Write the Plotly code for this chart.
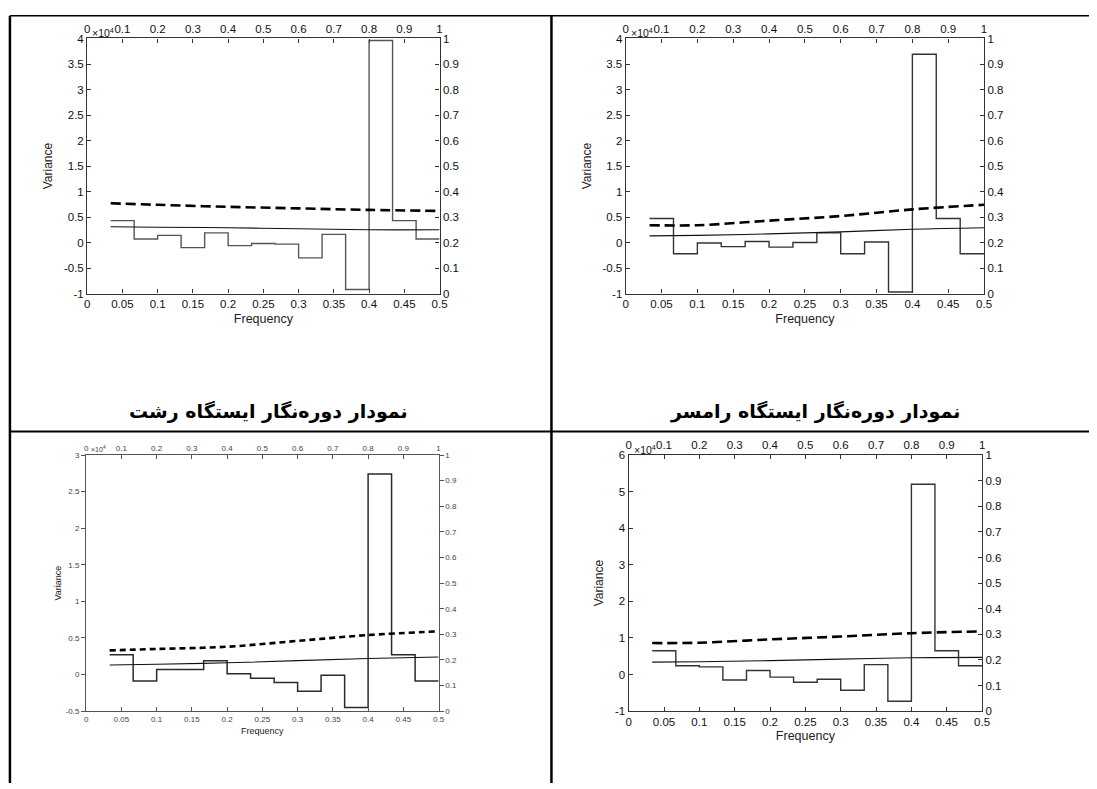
import plotly.graph_objects as go

W, H = 1097, 789

# ---------------- data (variance in units of 10^4) ----------------
freq_edges = [0.0333, 0.0667, 0.1, 0.1333, 0.1667, 0.2, 0.2333, 0.2667,
              0.3, 0.3333, 0.3667, 0.4, 0.4333, 0.4667, 0.5]
curve_freq = [0.0333, 0.1, 0.2, 0.3, 0.4, 0.5]

rasht_var = [0.43, 0.07, 0.14, -0.10, 0.19, -0.06, -0.02, -0.03, -0.30, 0.16, -0.92, 3.96, 0.43, 0.07]
rasht_red = [0.31, 0.30, 0.29, 0.27, 0.25, 0.25]
rasht_conf = [0.77, 0.74, 0.70, 0.67, 0.64, 0.62]

ramsar_var = [0.47, -0.22, -0.01, -0.08, 0.02, -0.09, 0.00, 0.19, -0.22, 0.01, -0.97, 3.69, 0.47, -0.22]
ramsar_red = [0.13, 0.14, 0.17, 0.21, 0.26, 0.29]
ramsar_conf = [0.34, 0.34, 0.43, 0.52, 0.65, 0.74]

st3_var = [0.27, -0.09, 0.07, 0.07, 0.19, 0.01, -0.05, -0.11, -0.23, -0.01, -0.45, 2.74, 0.27, -0.09]
st3_red = [0.13, 0.14, 0.16, 0.19, 0.22, 0.24]
st3_conf = [0.33, 0.35, 0.38, 0.46, 0.54, 0.59]

st4_var = [0.65, 0.24, 0.21, -0.15, 0.11, -0.07, -0.21, -0.13, -0.43, 0.27, -0.73, 5.20, 0.65, 0.24]
st4_red = [0.34, 0.35, 0.38, 0.42, 0.46, 0.47]
st4_conf = [0.86, 0.87, 0.96, 1.04, 1.13, 1.18]

bottom_ticks = [0, 0.05, 0.1, 0.15, 0.2, 0.25, 0.3, 0.35, 0.4, 0.45, 0.5]
top_ticks = [0, 0.1, 0.2, 0.3, 0.4, 0.5, 0.6, 0.7, 0.8, 0.9, 1]
right_ticks = [0, 0.1, 0.2, 0.3, 0.4, 0.5, 0.6, 0.7, 0.8, 0.9, 1]
y_ticks_a = [-1, -0.5, 0, 0.5, 1, 1.5, 2, 2.5, 3, 3.5, 4]
y_ticks_c = [-0.5, 0, 0.5, 1, 1.5, 2, 2.5, 3]
y_ticks_d = [-1, 0, 1, 2, 3, 4, 5, 6]

titles = ["نمودار دوره\u200cنگار ایستگاه رشت", "نمودار دوره\u200cنگار ایستگاه رامسر"]
x_label = "Frequency"
y_label = "Variance"
exp_label = "×10<sup>4</sup>"

# ---------------- layout helpers ----------------
def fx(v):
    return v / W

def fy(v):
    return 1 - v / H

def fmt(v):
    return f"{v:g}"

panels = [
    dict(var=rasht_var, red=rasht_red, conf=rasht_conf, box=(85, 441, 33, 292),
         yrange=[-1, 4], yticks=y_ticks_a, small=False, stepcol="#555555", dash="10px,5px"),
    dict(var=ramsar_var, red=ramsar_red, conf=ramsar_conf, box=(629, 991, 33, 292),
         yrange=[-1, 4], yticks=y_ticks_a, small=False, stepcol="#333333", dash="10px,5px"),
    dict(var=st3_var, red=st3_red, conf=st3_conf, box=(84, 440, 456, 716),
         yrange=[-0.5, 3], yticks=y_ticks_c, small=True, stepcol="#2a2a2a", dash="6px,4px"),
    dict(var=st4_var, red=st4_red, conf=st4_conf, box=(632, 989, 456, 716),
         yrange=[-1, 6], yticks=y_ticks_d, small=False, stepcol="#333333", dash="10px,5px"),
]

fig = go.Figure()
layout = {}
annotations = []

for p, pn in enumerate(panels):
    xb, xt = 2 * p + 1, 2 * p + 2
    yl, yr = 2 * p + 1, 2 * p + 2
    def nm(a, n):
        return a + ("" if n == 1 else str(n))
    x0, x1, y0, y1 = pn["box"]
    small = pn["small"]
    tfont = dict(family="Liberation Sans Narrow, Liberation Sans, Arial" if small else "Liberation Sans, Arial",
                 size=8 if small else 11.5, color="#444" if small else "#111")
    axcol = "#555" if small else "#333"
    common = dict(showgrid=False, zeroline=False, showline=True, linecolor=axcol,
                  linewidth=1.2, tickcolor=axcol, ticklen=4, tickfont=tfont, mirror=False)

    layout[nm("xaxis", xb)] = dict(common, domain=[fx(x0), fx(x1)], anchor=nm("y", yl),
                                  range=[0, 0.5], tickvals=bottom_ticks,
                                  ticktext=[fmt(v) for v in bottom_ticks], ticks="inside",
                                  title=dict(text=x_label, standoff=4,
                                             font=dict(family=tfont["family"], size=9 if small else 12.5, color="#222")))
    layout[nm("xaxis", xt)] = dict(common, overlaying=nm("x", xb), anchor=nm("y", yl), side="top",
                                  range=[0, 1], tickvals=top_ticks,
                                  ticktext=[fmt(v) for v in top_ticks], ticks="inside")
    layout[nm("yaxis", yl)] = dict(common, domain=[fy(y1), fy(y0)], anchor=nm("x", xb),
                                  range=pn["yrange"], tickvals=pn["yticks"],
                                  ticktext=[fmt(v) for v in pn["yticks"]],
                                  ticks="outside" if small else "inside",
                                  title=dict(text=y_label, standoff=2 if small else 8,
                                             font=dict(family=tfont["family"], size=9 if small else 12, color="#222")))
    layout[nm("yaxis", yr)] = dict(common, overlaying=nm("y", yl), anchor=nm("x", xb), side="right",
                                  range=[0, 1], tickvals=right_ticks,
                                  ticktext=[fmt(v) for v in right_ticks],
                                  ticks="outside" if small else "inside")

    # periodogram step line
    fig.add_trace(go.Scatter(x=freq_edges, y=pn["var"] + [pn["var"][-1]], mode="lines",
                             line=dict(shape="hv", color=pn["stepcol"], width=1.5 if small else 1.4),
                             xaxis=nm("x", xb), yaxis=nm("y", yl), showlegend=False, hoverinfo="skip"))
    # red-noise spectrum
    fig.add_trace(go.Scatter(x=curve_freq, y=pn["red"], mode="lines",
                             line=dict(shape="spline", color="#111", width=1.1),
                             xaxis=nm("x", xb), yaxis=nm("y", yl), showlegend=False, hoverinfo="skip"))
    # confidence limit
    fig.add_trace(go.Scatter(x=curve_freq, y=pn["conf"], mode="lines",
                             line=dict(shape="spline", color="#000", width=2.6, dash=pn["dash"]),
                             xaxis=nm("x", xb), yaxis=nm("y", yl), showlegend=False, hoverinfo="skip"))
    # anchor for the top/right axes
    fig.add_trace(go.Scatter(x=[0], y=[0], mode="markers", marker=dict(opacity=0),
                             xaxis=nm("x", xt), yaxis=nm("y", yr), showlegend=False, hoverinfo="skip"))

    annotations.append(dict(text=exp_label, xref="paper", yref="paper",
                            x=fx(x0 + 3), y=fy(y0 - 6), xanchor="left", yanchor="middle",
                            showarrow=False,
                            font=dict(family=tfont["family"], size=7 if small else 10.5, color=tfont["color"])))

for t, cx in zip(titles, [268, 820]):
    annotations.append(dict(text="<b>" + t + "</b>", xref="paper", yref="paper",
                            x=fx(cx), y=fy(412), xanchor="center", yanchor="middle",
                            showarrow=False, font=dict(family="DejaVu Sans", size=19, color="#000")))

line = dict(color="#000")
shapes = [
    dict(type="line", xref="paper", yref="paper", x0=fx(7), x1=fx(7), y0=fy(10), y1=fy(789), line=dict(line, width=2.5)),
    dict(type="line", xref="paper", yref="paper", x0=fx(554), x1=fx(554), y0=fy(10), y1=fy(789), line=dict(line, width=2.5)),
    dict(type="line", xref="paper", yref="paper", x0=fx(7), x1=fx(1097), y0=fy(10), y1=fy(10), line=dict(line, width=1.5)),
    dict(type="line", xref="paper", yref="paper", x0=fx(7), x1=fx(1097), y0=fy(432), y1=fy(432), line=dict(line, width=2)),
]

fig.update_layout(width=W, height=H, margin=dict(l=0, r=0, t=0, b=0),
                  paper_bgcolor="white", plot_bgcolor="white",
                  annotations=annotations, shapes=shapes, **layout)

fig.write_html("out.html")
